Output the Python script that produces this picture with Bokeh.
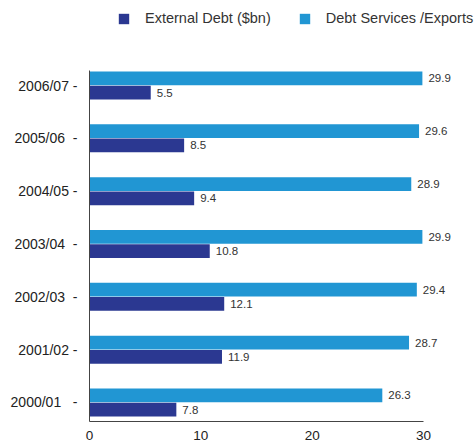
from bokeh.plotting import figure
from bokeh.models import ColumnDataSource, FixedTicker, Legend, LegendItem, Range1d
from bokeh.transform import dodge
from bokeh.core.properties import value
from bokeh.embed import file_html
from bokeh.resources import INLINE

years = ["2000/01", "2001/02", "2002/03", "2003/04", "2004/05", "2005/06", "2006/07"]
tick_labels = ["2000/01\u00a0\u00a0\u00a0-", "2001/02 -", "2002/03\u00a0\u00a0-", "2003/04\u00a0\u00a0-",
               "2004/05 -", "2005/06\u00a0\u00a0-", "2006/07 -"]
external_debt = [7.8, 11.9, 12.1, 10.8, 9.4, 8.5, 5.5]
debt_services = [26.3, 28.7, 29.4, 29.9, 28.9, 29.6, 29.9]
x_ticks = [0, 10, 20, 30]

DARK = "#2B3891"
LIGHT = "#2196D3"
FONT = "Liberation Sans"

idx = list(range(len(years)))
src = ColumnDataSource(dict(
    y=idx,
    ext=external_debt,
    serv=debt_services,
    ext_lbl=["%.1f" % v for v in external_debt],
    serv_lbl=["%.1f" % v for v in debt_services],
))

y_lo, y_hi = -0.36, len(years) - 1 + 0.284
p = figure(width=475, height=444, output_backend="svg", toolbar_location=None,
           x_range=Range1d(0, 34.67), y_range=Range1d(y_lo, 7.609),
           min_border_left=89, min_border_right=0, min_border_top=0, min_border_bottom=23)
p.outline_line_color = None
p.xgrid.visible = False
p.ygrid.visible = False
p.background_fill_color = "white"

r_serv = p.hbar(y=dodge("y", 0.135), right="serv", left=0, height=0.26, source=src,
                fill_color=LIGHT, line_color=None)
r_ext = p.hbar(y=dodge("y", -0.135), right="ext", left=0, height=0.26, source=src,
               fill_color=DARK, line_color=None)

p.text(x="serv", y=dodge("y", 0.135), text="serv_lbl", source=src, x_offset=6,
       text_baseline="middle", text_align="left", text_font=value(FONT),
       text_font_size="11.5px", text_color="#333333")
p.text(x="ext", y=dodge("y", -0.135), text="ext_lbl", source=src, x_offset=6,
       text_baseline="middle", text_align="left", text_font=value(FONT),
       text_font_size="11.5px", text_color="#333333")

p.yaxis.ticker = FixedTicker(ticks=idx)
p.yaxis.major_label_overrides = {i: t for i, t in zip(idx, tick_labels)}
p.yaxis.bounds = (y_lo, y_hi)
p.xaxis.ticker = FixedTicker(ticks=x_ticks)
p.xaxis.bounds = (0, 30)
for ax in (p.xaxis, p.yaxis):
    ax.major_tick_line_color = None
    ax.minor_tick_line_color = None
    ax.major_tick_out = 0
    ax.major_tick_in = 0
    ax.axis_line_color = "#444444"
    ax.major_label_text_font = FONT
    ax.major_label_text_color = "#222222"
p.yaxis.major_label_standoff = 12
p.yaxis.major_label_text_font_size = "14px"
p.xaxis.major_label_text_font_size = "13.5px"
p.xaxis.major_label_standoff = 9

legend = Legend(items=[LegendItem(label="External Debt ($bn)", renderers=[r_ext]),
                       LegendItem(label="Debt Services /Exports", renderers=[r_serv])],
                orientation="horizontal", location=(28, 395),
                glyph_width=13, glyph_height=13, label_height=13, label_standoff=15,
                spacing=27, padding=0, margin=0,
                label_text_font=FONT, label_text_font_size="14.5px", label_text_color="#333333",
                border_line_color=None, background_fill_alpha=0)
p.add_layout(legend)

open("out.html", "w").write(file_html(p, INLINE))
